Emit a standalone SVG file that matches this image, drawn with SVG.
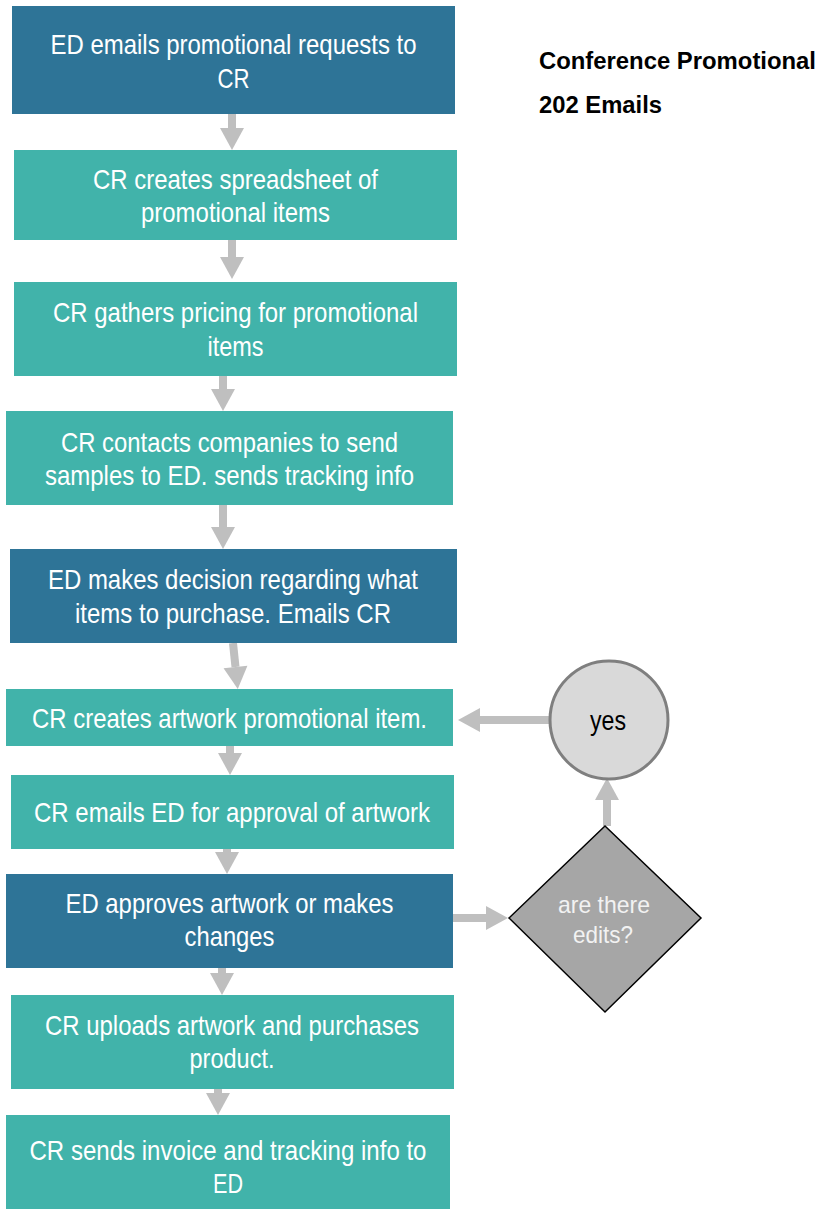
<svg xmlns="http://www.w3.org/2000/svg" width="820" height="1209" viewBox="0 0 820 1209">
<style>
.dark{fill:#2E7497}
.teal{fill:#41B3AA}
.t{font-family:"Liberation Sans",Arial,sans-serif;font-size:28px;fill:#FFFFFF;text-anchor:middle}
.dt{font-family:"Liberation Sans",Arial,sans-serif;font-size:24px;fill:#F2F2F2;text-anchor:middle}
.title{font-family:"Liberation Sans",Arial,sans-serif;font-size:24px;font-weight:bold;fill:#000000}
.conn{stroke:#BFBFBF;stroke-width:8;fill:none;marker-end:url(#ah)}
</style>
<defs>
<marker id="ah" markerUnits="userSpaceOnUse" markerWidth="22" markerHeight="24" refX="0" refY="12" orient="auto" overflow="visible">
<path d="M0,0 L22,12 L0,24 z" fill="#BFBFBF"/>
</marker>
</defs>
<rect width="820" height="1209" fill="#FFFFFF"/>
<g id="title">
<text class="title" x="539" y="69" textLength="277" lengthAdjust="spacingAndGlyphs">Conference Promotional</text>
<text class="title" x="539" y="113" textLength="123" lengthAdjust="spacingAndGlyphs">202 Emails</text>
</g>
<g id="connectors">
<line class="conn" x1="232" y1="114" x2="232" y2="128"/>
<line class="conn" x1="232" y1="240" x2="232" y2="257"/>
<line class="conn" x1="223" y1="376" x2="223" y2="389"/>
<line class="conn" x1="223" y1="505" x2="223" y2="527"/>
<line class="conn" x1="233" y1="643" x2="235.5" y2="667"/>
<line class="conn" x1="230" y1="746" x2="230" y2="753"/>
<line class="conn" x1="227" y1="849" x2="227" y2="852"/>
<line class="conn" x1="222" y1="968" x2="222" y2="973"/>
<line class="conn" x1="218" y1="1089" x2="218" y2="1093"/>
<line class="conn" x1="550" y1="720" x2="480" y2="720"/>
<line class="conn" x1="607" y1="826" x2="607" y2="800"/>
<line class="conn" x1="453" y1="918" x2="486" y2="918"/>
</g>
<g id="n1"><rect class="dark" x="12" y="6" width="443" height="108"/>
<text class="t" x="233.5" y="54" textLength="366" lengthAdjust="spacingAndGlyphs">ED emails promotional requests to</text>
<text class="t" x="233.5" y="88" textLength="32" lengthAdjust="spacingAndGlyphs">CR</text></g>
<g id="n2"><rect class="teal" x="14" y="150" width="443" height="90"/>
<text class="t" x="235.5" y="189" textLength="285" lengthAdjust="spacingAndGlyphs">CR creates spreadsheet of</text>
<text class="t" x="235.5" y="222" textLength="189" lengthAdjust="spacingAndGlyphs">promotional items</text></g>
<g id="n3"><rect class="teal" x="14" y="282" width="443" height="94"/>
<text class="t" x="235.5" y="322" textLength="365" lengthAdjust="spacingAndGlyphs">CR gathers pricing for promotional</text>
<text class="t" x="235.5" y="356" textLength="56" lengthAdjust="spacingAndGlyphs">items</text></g>
<g id="n4"><rect class="teal" x="6" y="411" width="447" height="94"/>
<text class="t" x="229.5" y="452" textLength="337" lengthAdjust="spacingAndGlyphs">CR contacts companies to send</text>
<text class="t" x="229.5" y="485" textLength="369" lengthAdjust="spacingAndGlyphs">samples to ED. sends tracking info</text></g>
<g id="n5"><rect class="dark" x="10" y="549" width="447" height="94"/>
<text class="t" x="233" y="589" textLength="370" lengthAdjust="spacingAndGlyphs">ED makes decision regarding what</text>
<text class="t" x="233" y="623" textLength="316" lengthAdjust="spacingAndGlyphs">items to purchase. Emails CR</text></g>
<g id="n6"><rect class="teal" x="6" y="689" width="447" height="57"/>
<text class="t" x="229.5" y="728" textLength="395" lengthAdjust="spacingAndGlyphs">CR creates artwork promotional item.</text></g>
<g id="n7"><rect class="teal" x="11" y="775" width="443" height="74"/>
<text class="t" x="232" y="822" textLength="396" lengthAdjust="spacingAndGlyphs">CR emails ED for approval of artwork</text></g>
<g id="n8"><rect class="dark" x="6" y="874" width="447" height="94"/>
<text class="t" x="229.5" y="913" textLength="328" lengthAdjust="spacingAndGlyphs">ED approves artwork or makes</text>
<text class="t" x="229.5" y="946" textLength="90" lengthAdjust="spacingAndGlyphs">changes</text></g>
<g id="n9"><rect class="teal" x="11" y="995" width="443" height="94"/>
<text class="t" x="232" y="1035" textLength="374" lengthAdjust="spacingAndGlyphs">CR uploads artwork and purchases</text>
<text class="t" x="232" y="1068" textLength="85" lengthAdjust="spacingAndGlyphs">product.</text></g>
<g id="n10"><rect class="teal" x="6" y="1115" width="444" height="94"/>
<text class="t" x="228" y="1160" textLength="397" lengthAdjust="spacingAndGlyphs">CR sends invoice and tracking info to</text>
<text class="t" x="228" y="1193" textLength="30" lengthAdjust="spacingAndGlyphs">ED</text></g>
<g id="yes"><circle cx="609" cy="720" r="59" fill="#D9D9D9" stroke="#7F7F7F" stroke-width="3"/>
<text x="608" y="730" font-family="Liberation Sans,Arial,sans-serif" font-size="27" fill="#000000" text-anchor="middle" textLength="36" lengthAdjust="spacingAndGlyphs">yes</text></g>
<g id="decision"><polygon points="605,826 701,918 605,1012 509,918" fill="#A6A6A6" stroke="#000000" stroke-width="1.5"/>
<text class="dt" x="604" y="913" textLength="92" lengthAdjust="spacingAndGlyphs">are there</text>
<text class="dt" x="603" y="943" textLength="60" lengthAdjust="spacingAndGlyphs">edits?</text></g>
</svg>
